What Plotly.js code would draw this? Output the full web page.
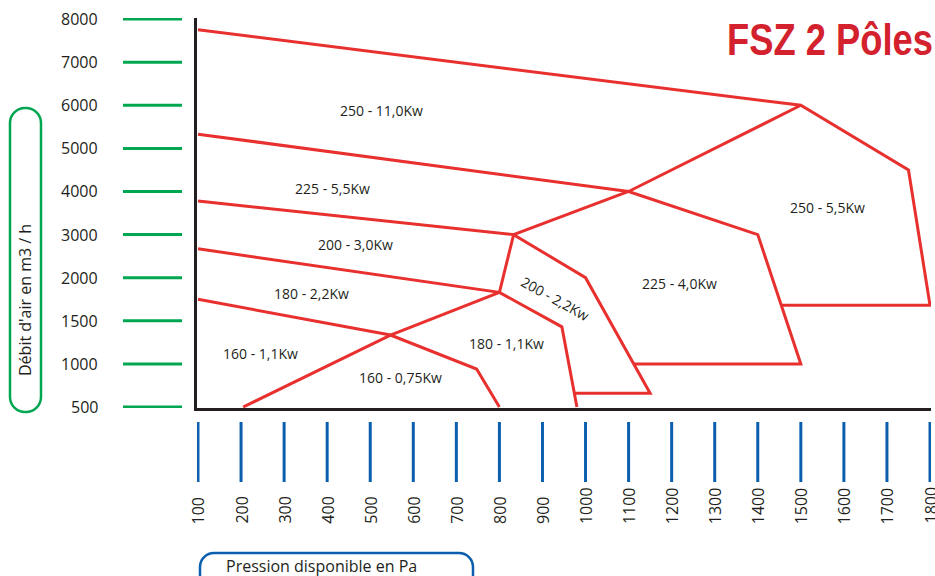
<!DOCTYPE html>
<html>
<head>
<meta charset="utf-8">
<script src="https://cdn.plot.ly/plotly-3.0.1.min.js"></script>
<style>html,body{margin:0;padding:0;background:#fff;}#chart{width:935px;height:576px;}</style>
</head>
<body>
<div id="chart"></div>
<script>
// ---- Data (Pa, m3/h) ----
const pressureTicks = [100,200,300,400,500,600,700,800,900,1000,1100,1200,1300,1400,1500,1600,1700,1800];
const flowTicks = [500,1000,1500,2000,3000,4000,5000,6000,7000,8000];

const line1P = [100, 1500, 1750, 1800, 1455];
const line1Q = [7750, 6000, 4500, 1680, 1680];
const line2P = [100, 1100, 1400, 1500, 1112];
const line2Q = [5330, 4000, 3000, 1000, 1000];
const line3P = [100, 833, 1000, 1150, 975];
const line3Q = [3780, 3000, 2000, 660, 660];
const line4P = [100, 800, 945, 980];
const line4Q = [2670, 1830, 1430, 500];
const line5P = [100, 547, 747, 800];
const line5Q = [1750, 1335, 940, 500];
const diagP = [205, 547, 800, 833, 1100, 1500];
const diagQ = [500, 1335, 1830, 3000, 4000, 6000];

const zoneNames = ["250 - 11,0Kw","225 - 5,5Kw","200 - 3,0Kw","180 - 2,2Kw","160 - 1,1Kw","160 - 0,75Kw","180 - 1,1Kw","200 - 2,2Kw","225 - 4,0Kw","250 - 5,5Kw"];
const zoneP = [525, 413, 466, 364, 246, 571, 816, 930, 1218, 1561];
const zoneQ = [5868, 4081, 2759, 1822, 1115, 848, 1231, 1764, 1938, 3640];

// flow axis is drawn with evenly spaced ticks: map m3/h to tick index
function qIdx(q){
  for(let i=0;i<flowTicks.length-1;i++){
    if(q<=flowTicks[i+1]) return i + (q-flowTicks[i])/(flowTicks[i+1]-flowTicks[i]);
  }
  return flowTicks.length-1;
}

// geometry helpers (pixel -> paper)
const L=197, R=4, T=18, B=168, W=935, H=576;
const PW=W-L-R, PH=H-T-B;
const px2x = p => (p-L)/PW;
const py2y = p => (H-B-p)/PH;
function roundRect(x0,y0,x1,y1,r){
  const k=0.5523*r;
  const P=(x,y)=>px2x(x).toFixed(5)+','+py2y(y).toFixed(5);
  return 'M'+P(x0+r,y0)+' L'+P(x1-r,y0)+' C'+P(x1-r+k,y0)+' '+P(x1,y0+r-k)+' '+P(x1,y0+r)+
    ' L'+P(x1,y1-r)+' C'+P(x1,y1-r+k)+' '+P(x1-r+k,y1)+' '+P(x1-r,y1)+
    ' L'+P(x0+r,y1)+' C'+P(x0+r-k,y1)+' '+P(x0,y1-r+k)+' '+P(x0,y1-r)+
    ' L'+P(x0,y0+r)+' C'+P(x0,y0+r-k)+' '+P(x0+r-k,y0)+' '+P(x0+r,y0)+' Z';
}

const RED='#e8302e', DARK='#231f20', GREEN='#00a650', BLUE='#0b5fae';
const FONT='"Open Sans", "Noto Sans", sans-serif';

const lines = [[line1P,line1Q],[line2P,line2Q],[line3P,line3Q],[line4P,line4Q],[line5P,line5Q],[diagP,diagQ]];
const traces = lines.map(([p,q]) => ({
  type:'scatter', mode:'lines', x:p, y:q.map(qIdx),
  line:{color:RED, width:3}, hoverinfo:'skip', showlegend:false
}));

const shapes = [];
flowTicks.forEach((q,i)=>shapes.push({type:'line', xref:'paper', yref:'y', x0:px2x(123), x1:px2x(182), y0:i, y1:i, line:{color:GREEN, width:3}}));
pressureTicks.forEach(p=>shapes.push({type:'line', xref:'x', yref:'paper', x0:p, x1:p, y0:py2y(422), y1:py2y(482), line:{color:BLUE, width:3}}));
shapes.push({type:'path', xref:'paper', yref:'paper', path:roundRect(10,108,41,412,15), line:{color:GREEN, width:2.5}});
shapes.push({type:'path', xref:'paper', yref:'paper', path:roundRect(200,553,473,610,14), line:{color:BLUE, width:2.5}});

const annotations = [];
flowTicks.forEach((q,i)=>annotations.push({xref:'paper', yref:'y', x:px2x(100), y:i, xanchor:'right', yanchor:'middle', text:String(q), showarrow:false, font:{family:FONT, size:16, color:DARK}}));
pressureTicks.forEach(p=>annotations.push({xref:'x', yref:'paper', x:p, y:py2y(526), xanchor:'center', yanchor:'bottom', textangle:-90, text:String(p), showarrow:false, font:{family:FONT, size:16, color:DARK}}));
zoneNames.forEach((t,i)=>annotations.push({xref:'x', yref:'y', x:zoneP[i], y:qIdx(zoneQ[i]), xanchor:'center', yanchor:'middle', text:t, showarrow:false, textangle: t==="200 - 2,2Kw" ? 29 : 0, font:{family:FONT, size:14, color:DARK}}));
annotations.push({xref:'paper', yref:'paper', x:px2x(25), y:py2y(300), xanchor:'center', yanchor:'middle', text:"Débit d'air en m3 / h", textangle:-90, showarrow:false, font:{family:FONT, size:16, color:DARK}});
annotations.push({xref:'paper', yref:'paper', x:px2x(321), y:py2y(566), xanchor:'center', yanchor:'middle', text:"Pression disponible en Pa", showarrow:false, font:{family:FONT, size:16, color:DARK}});

const layout = {
  width:W, height:H,
  margin:{l:L, r:R, t:T, b:B, pad:0},
  paper_bgcolor:'#fff', plot_bgcolor:'#fff',
  title:{text:'FSZ 2 Pôles', x:933/W, xref:'container', xanchor:'right', y:1-40/H, yref:'container', yanchor:'middle',
    font:{family:'"Liberation Sans Narrow", "Liberation Sans", Arial, sans-serif', size:44, weight:'bold', color:'#d3212d'}},
  xaxis:{range:[97.7,1802.3], showgrid:false, zeroline:false, showticklabels:false, ticks:'', showline:true, linecolor:DARK, linewidth:3, fixedrange:true},
  yaxis:{range:[-0.023,9.025], showgrid:false, zeroline:false, showticklabels:false, ticks:'', showline:true, linecolor:DARK, linewidth:3, fixedrange:true},
  shapes:shapes, annotations:annotations, showlegend:false
};

Plotly.newPlot('chart', traces, layout, {displayModeBar:false, staticPlot:true}).then(gd=>{
  // condense the bold title horizontally (narrow bold face in the reference)
  const t = gd.querySelector('.gtitle');
  if(t){
    const bb = t.getBBox();
    if(bb.width > 215){
      const s = 206/bb.width, xr = bb.x + bb.width;
      t.setAttribute('transform', 'translate('+xr+',0) scale('+s+',1) translate('+(-xr)+',0)');
    }
  }
});
</script>
</body>
</html>
